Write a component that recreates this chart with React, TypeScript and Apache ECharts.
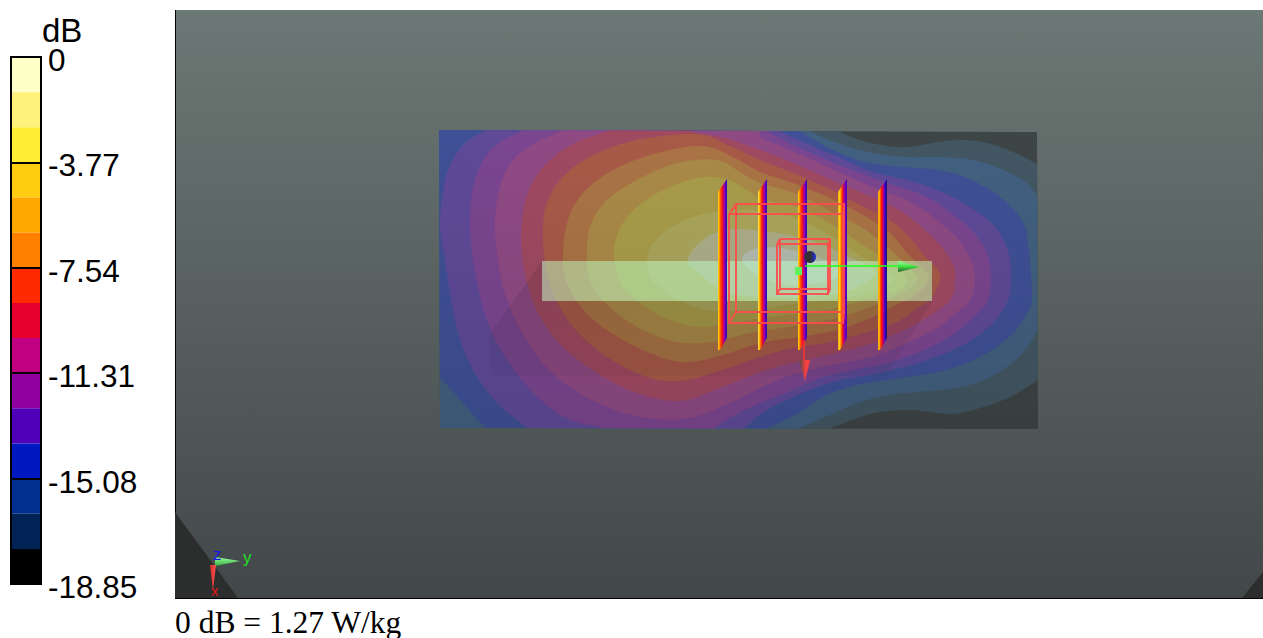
import React, { useEffect, useRef } from "react";
import * as echarts from "echarts";

type Pt = [number, number];

const bandSteps = [-1.2567, -1.2567, -1.2567, -1.2567, -1.2567, -1.2567, -1.2567, -1.2567, -1.2567, -1.2567, -1.2567, -1.2567, -1.2567, -1.2567, -1.2567];
const bandColors = ["#ffffc8", "#fff27a", "#ffee33", "#ffcc10", "#ffa800", "#ff7f00", "#ff2a00", "#e60030", "#c00080", "#9000a0", "#5000b8", "#0018c0", "#003090", "#002255", "#000000"];
const tickValues = [0, -3.77, -7.54, -11.31, -15.08, -18.85];

const contourColors = ["#3e4546", "#425763", "#426080", "#3f5096", "#5f4a98", "#7b4690", "#8f4a84", "#a04a62", "#a85a48", "#aa7445", "#aa8a48", "#a99c4a", "#aba65c", "#adae88", "#b2bcae"];

const level00: Pt[] = [[420, 110], [1060, 110], [1060, 450], [420, 450]];
const level01: Pt[] = [[420, 120], [838, 120], [840, 131], [860, 140], [887, 146], [910, 147], [933, 143], [960, 140], [987, 143], [1013, 152], [1037, 164], [1050, 172], [1050, 372], [1038, 380], [1010, 397], [980, 408], [953, 414], [930, 412], [907, 410], [880, 412], [857, 418], [830, 429], [815, 440], [420, 440]];
const level02: Pt[] = [[420, 120], [805, 120], [810, 131], [843, 145], [873, 153], [907, 157], [940, 157], [973, 160], [1003, 170], [1027, 183], [1037, 195], [1050, 205], [1050, 322], [1038, 330], [1027, 348], [1007, 367], [977, 383], [947, 389], [917, 392], [887, 395], [857, 403], [830, 415], [798, 429], [785, 440], [420, 440]];
const level03: Pt[] = [[425, 120], [790, 120], [800, 131], [837, 152], [870, 163], [903, 167], [937, 170], [967, 178], [1000, 197], [1023, 222], [1029, 250], [1031, 275], [1032, 300], [1028, 312], [1013, 333], [987, 353], [953, 368], [920, 375], [887, 380], [857, 385], [827, 395], [800, 412], [768, 429], [755, 440], [500, 440], [485, 428], [462, 402], [438, 375], [425, 360]];
const level04: Pt[] = [[490, 122], [775, 122], [780, 131], [810, 145], [840, 158], [873, 172], [907, 180], [937, 190], [967, 205], [993, 225], [1007, 248], [1011, 275], [1008, 300], [993, 323], [967, 343], [933, 358], [900, 368], [870, 375], [840, 380], [810, 390], [780, 403], [760, 415], [745, 428], [735, 440], [535, 440], [527, 428], [497, 403], [473, 370], [458, 333], [450, 293], [445, 260], [440, 227], [442, 200], [448, 170], [463, 145], [485, 130]];
const level05: Pt[] = [[530, 122], [760, 122], [767, 131], [793, 145], [827, 160], [860, 173], [893, 185], [923, 195], [950, 212], [973, 232], [987, 253], [991, 275], [988, 300], [973, 318], [947, 338], [917, 353], [887, 363], [853, 370], [820, 378], [793, 390], [760, 403], [730, 418], [712, 430], [700, 440], [615, 440], [603, 428], [570, 420], [537, 397], [507, 360], [488, 323], [478, 287], [472, 253], [470, 220], [473, 187], [483, 160], [500, 142], [523, 130]];
const level06: Pt[] = [[570, 122], [745, 122], [760, 137], [783, 147], [817, 162], [850, 177], [880, 190], [907, 200], [933, 217], [957, 238], [970, 258], [975, 278], [970, 300], [960, 310], [937, 328], [907, 343], [877, 355], [847, 362], [817, 368], [783, 378], [760, 388], [730, 403], [690, 418], [647, 418], [607, 407], [570, 387], [540, 360], [517, 323], [503, 287], [497, 253], [495, 220], [500, 187], [513, 160], [537, 142], [563, 130]];
const level07: Pt[] = [[615, 122], [685, 122], [690, 131], [725, 138], [760, 150], [793, 163], [827, 178], [860, 192], [890, 205], [913, 220], [937, 242], [952, 262], [955, 278], [950, 300], [923, 320], [893, 335], [860, 347], [827, 355], [793, 363], [760, 372], [720, 388], [680, 401], [637, 393], [597, 373], [563, 347], [540, 317], [527, 283], [522, 253], [522, 220], [530, 187], [550, 160], [577, 142], [610, 130]];
const level08: Pt[] = [[637, 140], [697, 134], [730, 146], [760, 160], [793, 173], [827, 188], [860, 205], [890, 220], [910, 238], [922, 253], [938, 270], [940, 280], [930, 300], [917, 308], [897, 322], [867, 332], [830, 342], [793, 348], [760, 357], [713, 373], [680, 381], [647, 377], [607, 357], [573, 327], [553, 293], [545, 263], [543, 230], [547, 203], [563, 177], [593, 155]];
const level09: Pt[] = [[657, 153], [703, 146], [735, 158], [760, 172], [793, 183], [830, 198], [863, 215], [890, 233], [907, 253], [926, 272], [928, 282], [915, 295], [900, 303], [870, 318], [837, 330], [800, 337], [760, 343], [723, 355], [690, 362], [663, 358], [623, 340], [590, 317], [570, 290], [563, 263], [567, 223], [583, 193], [613, 170]];
const level10: Pt[] = [[677, 163], [717, 160], [740, 172], [760, 183], [800, 195], [833, 213], [863, 228], [887, 247], [910, 268], [917, 280], [905, 292], [870, 307], [837, 318], [800, 325], [750, 333], [713, 342], [677, 342], [643, 330], [613, 310], [593, 287], [587, 263], [590, 227], [607, 200], [637, 180]];
const level11: Pt[] = [[697, 178], [730, 180], [760, 198], [800, 208], [833, 225], [863, 245], [893, 265], [907, 280], [895, 292], [870, 298], [837, 308], [800, 313], [750, 320], [703, 327], [670, 320], [643, 305], [623, 287], [615, 263], [615, 243], [627, 217], [657, 193]];
const level12: Pt[] = [[693, 217], [730, 210], [770, 212], [800, 220], [833, 237], [863, 258], [893, 277], [880, 288], [850, 297], [800, 303], [750, 310], [707, 310], [673, 297], [652, 280], [647, 263], [652, 245], [670, 228]];
const level13: Pt[] = [[715, 233], [735, 229], [770, 232], [810, 240], [845, 255], [875, 272], [850, 290], [810, 297], [770, 297], [730, 293], [697, 272], [688, 260], [697, 245]];
const level14: Pt[] = [[742, 260], [747, 252], [767, 247], [800, 252], [830, 262], [845, 272], [825, 282], [790, 285], [765, 278], [750, 270]];
const contourLevels = [level00, level01, level02, level03, level04, level05, level06, level07, level08, level09, level10, level11, level12, level13, level14];

const surfaceClip: Pt[] = [[439, 130], [1037, 132], [1038, 429], [440, 428]];
const shadeTrapezoid: Pt[] = [[542, 301], [542, 261], [488, 337], [492, 376], [887, 376], [932, 301]];
const lightBand: Pt[] = [[542, 261], [932, 261], [932, 301], [542, 301]];
const cornerLeft: Pt[] = [[175, 512], [238, 598], [175, 598]];
const cornerRight: Pt[] = [[1242, 598], [1263, 572], [1263, 598]];

const fin1: Pt[] = [[718, 192], [727, 179], [727, 338], [720, 350], [718, 350]];
const fin2: Pt[] = [[758, 192], [767, 179], [767, 338], [760, 350], [758, 350]];
const fin3: Pt[] = [[798, 192], [807, 179], [807, 338], [800, 350], [798, 350]];
const fin4: Pt[] = [[838, 192], [847, 179], [847, 338], [840, 350], [838, 350]];
const fin5: Pt[] = [[878, 192], [887, 179], [887, 338], [880, 350], [878, 350]];

const wireOuter: Pt[][] = [
  [[729, 214], [843, 214], [843, 323], [729, 323], [729, 214]],
  [[736, 204], [844, 204], [844, 312], [736, 312], [736, 204]],
  [[729, 214], [736, 204]], [[843, 214], [844, 204]], [[843, 323], [844, 312]], [[729, 323], [736, 312]],
];
const wireInner: Pt[][] = [
  [[777, 244], [828, 244], [828, 294], [777, 294], [777, 244]],
  [[780, 239], [830, 239], [830, 289], [780, 289], [780, 239]],
  [[777, 244], [780, 239]], [[828, 244], [830, 239]], [[828, 294], [830, 289]], [[777, 294], [780, 289]],
];
const greenShaft: Pt[] = [[805, 266], [898, 266]];
const greenCone: Pt[] = [[898, 261], [920, 267], [898, 272]];
const greenSquare: Pt[] = [[795, 267], [802, 267], [802, 275], [795, 275]];
const redShaft: Pt[] = [[804, 340], [804, 360]];
const redCone: Pt[] = [[799, 360], [810, 360], [805, 381]];
const sphereCentre: Pt = [810, 257];
const triadGreen: Pt[] = [[215, 557], [240, 561], [215, 566]];
const triadRed: Pt[] = [[210, 565], [216, 565], [213, 590]];

const g = (stops: string[]) =>
  new echarts.graphic.LinearGradient(0, 0, 1, 0, stops.map((color, i) => ({ offset: i / (stops.length - 1), color })));

// Rounds a closed outline for drawing (screen-space Catmull-Rom).
const rounded = (pts: number[][]) => {
  const out: number[][] = [];
  const n = pts.length;
  for (let i = 0; i < n; i++) {
    const p0 = pts[(i - 1 + n) % n], p1 = pts[i], p2 = pts[(i + 1) % n], p3 = pts[(i + 2) % n];
    for (let s = 0; s < 6; s++) {
      const t = s / 6, t2 = t * t, t3 = t2 * t;
      out.push([0, 1].map((k) =>
        0.5 * (2 * p1[k] + (p2[k] - p0[k]) * t + (2 * p0[k] - 5 * p1[k] + 4 * p2[k] - p3[k]) * t2 + (3 * p1[k] - p0[k] - 3 * p2[k] + p3[k]) * t3)));
    }
  }
  return out;
};

export default function App() {
  const ref = useRef<HTMLDivElement>(null);
  useEffect(() => {
    const chart = echarts.init(ref.current!, undefined, { renderer: "svg" });
    const poly = (api: any, pts: Pt[], style: any) => ({
      type: "polygon",
      shape: { points: pts.map((p) => api.coord(p)) },
      style,
    });
    const line = (api: any, pts: Pt[], stroke: string, lineWidth: number, opacity = 1) => ({
      type: "polyline",
      shape: { points: pts.map((p) => api.coord(p)) },
      style: { stroke, lineWidth, fill: "none", opacity },
    });
    const layer = (z: number, build: (api: any) => any[]) => ({
      type: "custom",
      coordinateSystem: "cartesian2d",
      xAxisIndex: 1,
      yAxisIndex: 1,
      silent: true,
      clip: false,
      z,
      data: [[0, 0]],
      renderItem: (_: any, api: any) => ({ type: "group", children: build(api) }),
    });
    const finFill1 = g(["#ffd820", "#ffa000", "#ff5000", "#ff2000", "#d00060", "#a000a0", "#5000c0", "#2010c0"]);
    const finFill2 = g(["#ffe860", "#ffc000", "#ff7000", "#ff2000", "#d00060", "#a000a0", "#5000c0", "#2010c0"]);
    const finFill4 = g(["#ff9000", "#ffd820", "#ffa000", "#ff4000", "#e00040", "#a000a0", "#6000b8", "#4000c0"]);
    const finFill5 = g(["#ff9000", "#ffcc10", "#ff6000", "#ff2000", "#e00040", "#a000a0", "#5000b8", "#1010c0", "#201050"]);
    const clipRect = (api: any) => ({
      type: "polygon",
      shape: { points: surfaceClip.map((p) => api.coord(p)) },
    });

    chart.setOption({
      animation: false,
      tooltip: { show: false },
      grid: [
        { left: 11, top: 57, width: 30, height: 527, show: true, z: 10, backgroundColor: "transparent", borderColor: "#000", borderWidth: 2 },
        { left: 0, top: 0, width: 1263, height: 638 },
        { left: 11, top: 60, width: 30, height: 527 },
      ],
      xAxis: [
        { type: "category", gridIndex: 0, data: ["dB"], show: false },
        { type: "value", gridIndex: 1, min: 0, max: 1263, show: false },
        { type: "value", gridIndex: 2, min: 0, max: 1, show: false },
      ],
      yAxis: [
        { type: "value", gridIndex: 0, min: -18.85, max: 0, interval: 3.77, show: false },
        { type: "value", gridIndex: 1, min: 0, max: 638, inverse: true, show: false },
        {
          type: "value",
          gridIndex: 2,
          min: -18.85,
          max: 0,
          interval: 3.77,
          position: "right",
          axisLine: { show: false },
          axisTick: { show: false },
          splitLine: { show: false },
          axisLabel: {
            show: true,
            margin: 7,
            lineHeight: 24,
            color: "#000",
            fontFamily: "Liberation Sans",
            fontSize: 31.5,
            formatter: (v: number) => String(tickValues.reduce((a, b) => (Math.abs(b - v) < Math.abs(a - v) ? b : a))),
          },
        },
      ],
      graphic: [
        {
          type: "rect",
          z: 0,
          shape: { x: 175, y: 10, width: 1088, height: 588 },
          style: {
            fill: new echarts.graphic.LinearGradient(0, 0, 0, 1, [
              { offset: 0, color: "#6c7875" },
              { offset: 1, color: "#424849" },
            ]),
          },
        },
        { type: "line", z: 1, shape: { x1: 175.5, y1: 10, x2: 175.5, y2: 598 }, style: { stroke: "#000", lineWidth: 1 } },
        { type: "line", z: 1, shape: { x1: 175, y1: 598.5, x2: 1263, y2: 598.5 }, style: { stroke: "#000", lineWidth: 1 } },
        { type: "text", z: 20, x: 42, y: 17, style: { text: "dB", fill: "#000", font: "33px 'Liberation Sans'", lineHeight: 26 } },
        { type: "text", z: 20, x: 175, y: 606, style: { text: "0 dB = 1.27 W/kg", fill: "#000", font: "31.5px 'Liberation Serif'" } },
        { type: "text", z: 20, x: 243, y: 549, style: { text: "y", fill: "#20e020", font: "17px 'Liberation Sans'" } },
        { type: "text", z: 20, x: 213, y: 546, style: { text: "z", fill: "#1818e0", font: "17px 'Liberation Sans'" } },
        { type: "text", z: 20, x: 211, y: 583, style: { text: "x", fill: "#e01818", font: "15px 'Liberation Sans'" } },
      ],
      series: [
        ...bandSteps.map((v, i) => ({
          type: "bar",
          xAxisIndex: 0,
          yAxisIndex: 0,
          stack: "scale",
          barWidth: "100%",
          silent: true,
          data: [v],
          itemStyle: { color: bandColors[i] },
          ...(i === bandSteps.length - 1
            ? {
                markLine: {
                  silent: true,
                  symbol: "none",
                  z: 6,
                  label: { show: false },
                  lineStyle: { color: "#000", width: 2, type: "solid" },
                  data: tickValues.slice(1, 5).map((yAxis) => ({ yAxis })),
                },
              }
            : {}),
        })),
        layer(2, (api) => [
          poly(api, cornerLeft, { fill: "#2c2e2e" }),
          poly(api, cornerRight, { fill: "#2c2e2e" }),
        ]),
        layer(3, (api) => [
          {
            type: "group",
            children: contourLevels.map((pts, i) => ({
              type: "polygon",
              shape: { points: i === 0 ? pts.map((p) => api.coord(p)) : rounded(pts.map((p) => api.coord(p))) },
              style: { fill: contourColors[i] },
              clipPath: clipRect(api),
            })),
          },
        ]),
        layer(4, (api) => [
          poly(api, surfaceClip, { fill: new echarts.graphic.LinearGradient(0, 0, 0, 1, [{ offset: 0, color: "rgba(0,0,0,0)" }, { offset: 1, color: "rgba(0,0,0,0.1)" }]) }),
          poly(api, shadeTrapezoid, { fill: new echarts.graphic.LinearGradient(0, 0, 0, 1, [{ offset: 0, color: "rgba(0,0,0,0.1)" }, { offset: 1, color: "rgba(0,0,0,0.04)" }]) }),
          poly(api, lightBand, { fill: "rgba(190,255,200,0.5)" }),
        ]),
        layer(5, (api) => [
          poly(api, fin1, { fill: finFill1 }),
          poly(api, fin2, { fill: finFill2 }),
          poly(api, fin3, { fill: finFill1 }),
          poly(api, fin4, { fill: finFill4 }),
          poly(api, fin5, { fill: finFill5 }),
        ]),
        layer(6, (api) => [
          ...wireOuter.map((p) => line(api, p, "#ff4a4a", 2, 0.9)),
          ...wireInner.map((p) => line(api, p, "#ff4a4a", 2, 0.9)),
          line(api, greenShaft, "#20ff20", 1.5),
          poly(api, greenCone, { fill: new echarts.graphic.LinearGradient(0, 0, 0, 1, [{ offset: 0, color: "#a0ffa0" }, { offset: 0.5, color: "#40e040" }, { offset: 1, color: "#2c5a30" }]) }),
          poly(api, greenSquare, { fill: "#60f060" }),
          line(api, redShaft, "#ff3030", 1.5),
          poly(api, redCone, { fill: new echarts.graphic.LinearGradient(0, 0, 1, 0, [{ offset: 0, color: "#504848" }, { offset: 0.6, color: "#f04040" }, { offset: 1, color: "#ff4040" }]) }),
          {
            type: "circle",
            shape: { cx: api.coord(sphereCentre)[0], cy: api.coord(sphereCentre)[1], r: 6 },
            style: { fill: new echarts.graphic.LinearGradient(0, 0, 1, 0, [{ offset: 0, color: "#303038" }, { offset: 0.55, color: "#303038" }, { offset: 1, color: "#2030e0" }]) },
          },
          poly(api, triadGreen, { fill: new echarts.graphic.LinearGradient(0, 0, 0, 1, [{ offset: 0, color: "#a0ffa0" }, { offset: 1, color: "#30b040" }]) }),
          poly(api, triadRed, { fill: new echarts.graphic.LinearGradient(0, 0, 1, 0, [{ offset: 0, color: "#d03030" }, { offset: 1, color: "#ff5050" }]) }),
        ]),
      ],
    });
    return () => chart.dispose();
  }, []);
  return <div ref={ref} style={{ position: "absolute", left: 0, top: 0, width: 1263, height: 638 }} />;
}
